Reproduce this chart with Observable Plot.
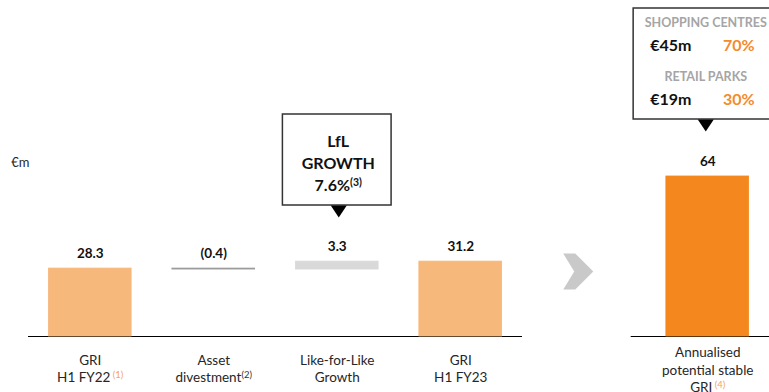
<!DOCTYPE html>
<html><head><meta charset="utf-8">
<script src="https://cdn.jsdelivr.net/npm/d3@7"></script>
<script src="https://cdn.jsdelivr.net/npm/@observablehq/plot@0.6"></script>
<style>
html,body{margin:0;padding:0;background:#fff;overflow:hidden}
#chart{position:relative;width:769px;height:392px;overflow:hidden}
#chart svg{position:absolute;left:0;top:0}
</style></head><body><div id="chart"></div>
<script>
// ---- data ----
const stages = ["GRI\nH1 FY22", "Asset\ndivestment", "Like-for-Like\nGrowth", "GRI\nH1 FY23", "Annualised\npotential stable\nGRI"];
const footnotes = [" (1)", "(2)", "", "", " (4)"];
const values = [28.3, -0.4, 3.3, 31.2, 64];
const valueLabels = ["28.3", "(0.4)", "3.3", "31.2", "64"];
const kinds = ["total", "change", "change", "total", "annualised"];
const unitLabel = "€m";
const lflCallout = ["LfL", "GROWTH", "7.6%"];
const lflFootnote = "(3)";
const segments = ["SHOPPING CENTRES", "RETAIL PARKS"];
const segmentGri = ["€45m", "€19m"];
const segmentShare = ["70%", "30%"];

// ---- layout & style ----
const W = 769, H = 392, baseY = 336, mL = 28;
const leftMax = 140, rightMax = 134.4;
const leftY = px => (baseY - px) / baseY * leftMax;
const rightY = px => (baseY - px) / baseY * rightMax;
const slotOf = i => i < 4 ? i : i + 1; // slot 4 holds the arrow
const half = 0.335;
const fills = {total: "#F7B87B", annualised: "#F4881F"};
const changeFill = v => v < 0 ? "#9B9B9B" : "#D9D9D9";
const noteColors = ["#F5A55A", "#333", "#333", "#333", "#F5A55A"];
const font = "Lato, 'Open Sans', sans-serif";

let run = 0;
const rows = values.map((v, i) => {
  let y1, y2;
  if (kinds[i] === "change") { y1 = run; y2 = run + v; run = y2; }
  else { y1 = 0; y2 = v; run = v; }
  return {i, slot: slotOf(i), label: stages[i], y1, y2, top: Math.max(y1, y2), text: valueLabels[i],
    fill: kinds[i] === "change" ? changeFill(v) : fills[kinds[i]]};
});
const leftRows = rows.filter(d => d.i < 4);
const rightRows = rows.filter(d => d.i >= 4);

const chevron = {draw(ctx) {
  ctx.moveTo(-15, -18); ctx.lineTo(-3, -18); ctx.lineTo(15, 0); ctx.lineTo(-3, 18);
  ctx.lineTo(-15, 18); ctx.lineTo(-4, 0); ctx.closePath();
}};
const downTri = {draw(ctx) {
  ctx.moveTo(-8, 0); ctx.lineTo(8, 0); ctx.lineTo(0, 12); ctx.closePath();
}};

function make(yMax, marks) {
  return Plot.plot({
    width: W, height: H, marginLeft: mL, marginRight: 0, marginTop: 0, marginBottom: H - baseY,
    x: {type: "linear", domain: [-0.5, 5.5], axis: null},
    y: {domain: [0, yMax], axis: null},
    color: {type: "identity"},
    style: {fontFamily: font, background: "transparent"},
    marks
  });
}

function barMarks(data, labelDy, lh) {
  return [
    Plot.rect(data, {x1: d => d.slot - half, x2: d => d.slot + half, y1: "y1", y2: "y2", fill: "fill", stroke: "fill", strokeWidth: 0.8}),
    Plot.text(data, {x: "slot", y: "top", text: "text", dy: -15, fontWeight: "bold", fontSize: 13.5, fill: "#111"}),
    Plot.text(data, {x: "slot", y: 0, text: "label", lineAnchor: "top", dy: labelDy, fontSize: 13.5, lineHeight: lh, fill: "#262626", ariaDescription: "category"})
  ];
}

const left = make(leftMax, [
  Plot.ruleY([0], {x1: -0.5, x2: 3.5, stroke: "#000", strokeWidth: 1.2}),
  ...barMarks(leftRows, 16, 1.27),
  Plot.text([unitLabel], {frameAnchor: "left", textAnchor: "end", dx: 1, dy: -6, fontSize: 13, fill: "#262626"}),
  Plot.dot([0], {x: 4, y: leftY(271), dx: -6, symbol: chevron, r: 10, fill: "#C9C9C9", stroke: "none"}),
  Plot.rect([0], {x1: 2 - 0.44, x2: 2 + 0.44, y1: leftY(205), y2: leftY(114), fill: "white", stroke: "#333", strokeWidth: 1.5}),
  Plot.dot([0], {x: 2, y: leftY(205), dx: 1.5, symbol: downTri, r: 8, fill: "#000", stroke: "none"}),
  Plot.text([lflCallout.join("\n")], {x: 2, y: leftY(161), dx: 1, fontWeight: "bold", fontSize: 16, lineHeight: 1.38, fill: "#111", ariaDescription: "lfl"})
]);

const right = make(rightMax, [
  Plot.ruleY([0], {x1: 4.38, x2: 5.5, stroke: "#000", strokeWidth: 1.2}),
  ...barMarks(rightRows, 8, 1.31),
  Plot.rect([0], {x1: 5 - 0.6, x2: 5.8, y1: rightY(119), y2: rightY(8), fill: "white", stroke: "#333", strokeWidth: 1.5}),
  Plot.dot([0], {x: 5, y: rightY(119), dx: -2, symbol: downTri, r: 8, fill: "#000", stroke: "none"}),
  Plot.text(segments, {x: 5, y: (d, i) => rightY(22 + 54 * i), dx: -2, fontWeight: "bold", fontSize: 12.5, fill: "#A5A5A5"}),
  Plot.text(segmentGri, {x: 5, y: (d, i) => rightY(45 + 54 * i), dx: -37, fontWeight: "bold", fontSize: 16, fill: "#111"}),
  Plot.text(segmentShare, {x: 5, y: (d, i) => rightY(45 + 54 * i), dx: 31, fontWeight: "bold", fontSize: 16, fill: "#F58A2C"})
]);

function addSup(svg, label, notes, colors, size, weight) {
  d3.select(svg).selectAll(`g[aria-description="${label}"] text`).each(function(_, k) {
    const note = notes[k]; if (!note) return;
    const t = d3.select(this);
    const spans = t.selectAll("tspan").nodes();
    const target = spans.length ? d3.select(spans[spans.length - 1]) : t;
    target.append("tspan").attr("dy", "-0.45em").attr("font-size", size).attr("font-weight", weight)
      .attr("fill", colors[k]).text(note);
  });
}
addSup(left, "category", footnotes.slice(0, 4), noteColors.slice(0, 4), 9.5, "normal");
addSup(right, "category", footnotes.slice(4), noteColors.slice(4), 9.5, "normal");
addSup(left, "lfl", [lflFootnote], ["#111"], 10.5, "bold");

const c = document.getElementById("chart");
c.appendChild(left);
c.appendChild(right);
</script></body></html>
